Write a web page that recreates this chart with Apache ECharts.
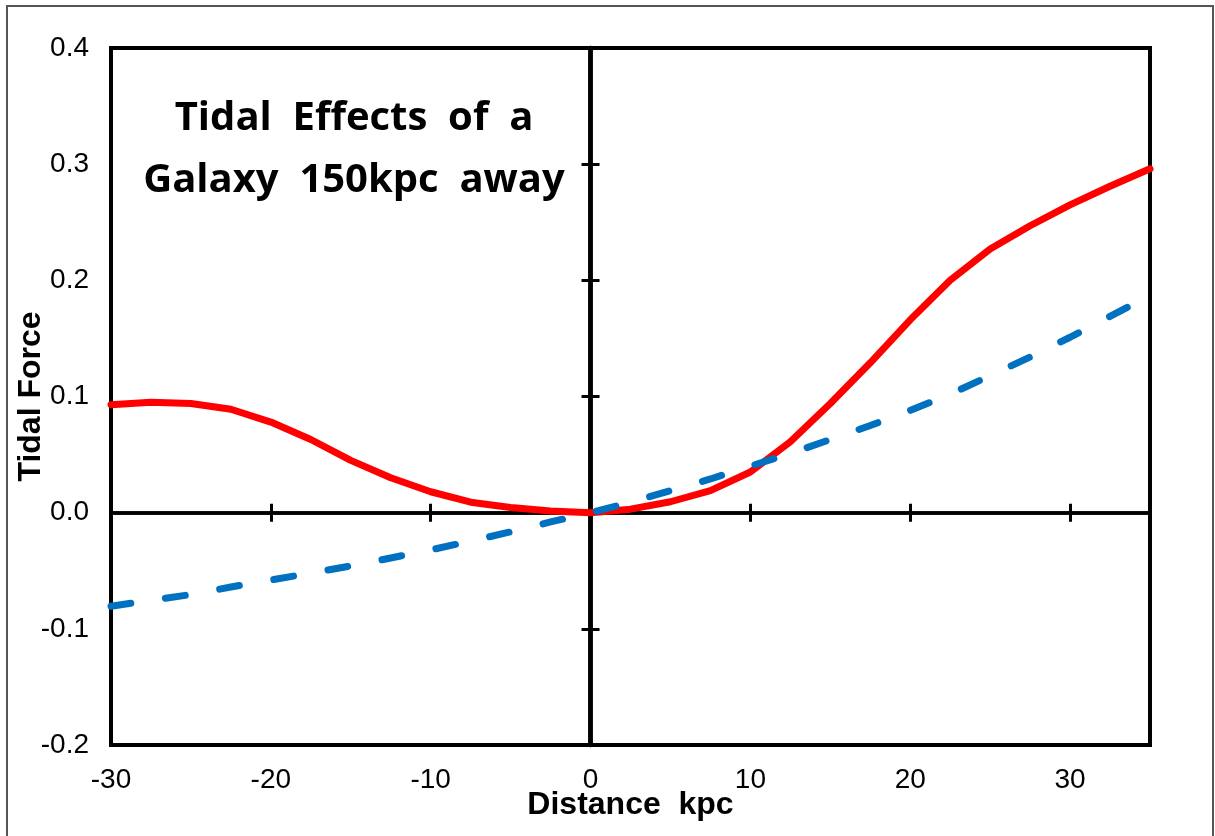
<!DOCTYPE html>
<html>
<head>
<meta charset="utf-8">
<script src="https://cdn.jsdelivr.net/npm/echarts@6/dist/echarts.min.js"></script>
<style>
html,body{margin:0;padding:0;background:#fff;}
#chart{width:1215px;height:836px;}
</style>
</head>
<body>
<div id="chart"></div>
<script>
// Data
var distanceKpc = [-30,-27.5,-25,-22.5,-20,-17.5,-15,-12.5,-10,-7.5,-5,-2.5,0,2.5,5,7.5,10,12.5,15,17.5,20,22.5,25,27.5,30,32.5,35];
var tidalRed = [0.093,0.095,0.094,0.089,0.078,0.063,0.045,0.030,0.018,0.009,0.0045,0.0015,0,0.003,0.0094,0.019,0.035,0.061,0.094,0.129,0.166,0.200,0.227,0.247,0.265,0.281,0.296];
var tidalBlue = [-0.0805,-0.0755,-0.0705,-0.064,-0.058,-0.052,-0.0458,-0.039,-0.032,-0.0245,-0.0165,-0.008,0,0.009,0.019,0.029,0.040,0.051,0.063,0.075,0.088,0.102,0.118,0.134,0.151,0.169,0.187];
var titleLines = ['Tidal  Effects  of  a', 'Galaxy  150kpc  away'];
var xAxisName = 'Distance  kpc';
var yAxisName = 'Tidal Force';

function pairs(xs, ys){ return xs.map(function(x,i){ return [x, ys[i]]; }); }

var chart = echarts.init(document.getElementById('chart'));
var labelFont = {fontSize:28, color:'#000', fontFamily:'Liberation Sans, Arial, sans-serif'};
var xBase = {type:'value', min:-30, max:35, interval:10, splitLine:{show:false}, gridIndex:0};
var yBase = {type:'value', min:-0.2, max:0.4, interval:0.1, splitLine:{show:false}, gridIndex:0};

var option = {
  backgroundColor:'#fff',
  animation:false,
  grid:{left:111, right:65, top:48, bottom:91, containLabel:false, outerBoundsMode:'none', show:true, borderColor:'#000', borderWidth:4, backgroundColor:'transparent'},
  graphic:[
    {type:'rect', shape:{x:7, y:6, width:1206, height:860}, style:{fill:'none', stroke:'#555', lineWidth:2}, silent:true},
    {type:'text', x:354, y:88, style:{text:titleLines.join('\n'), textAlign:'center', textVerticalAlign:'top', fontSize:40, fontWeight:'bold', fontFamily:'Open Sans, sans-serif', lineHeight:62, fill:'#000'}, z:10}
  ],
  xAxis:[
    Object.assign({}, xBase, {
      position:'bottom',
      axisLine:{show:false, onZero:false},
      axisTick:{show:false},
      axisLabel:Object.assign({margin:21, showMaxLabel:false, formatter:function(v){ return v===35 ? '' : String(v); }}, labelFont),
      name:xAxisName, nameLocation:'middle', nameGap:44, nameMoveOverlap:false,
      nameTextStyle:{fontSize:32, fontWeight:'bold', color:'#000', fontFamily:'Liberation Sans, Arial, sans-serif'}
    }),
    Object.assign({}, xBase, {
      position:'bottom',
      axisLine:{show:true, onZero:true, onZeroAxisIndex:0, lineStyle:{color:'#000', width:3.5}},
      axisTick:{show:true, inside:true, length:9, lineStyle:{color:'#000', width:3}},
      axisLabel:{show:false}
    }),
    Object.assign({}, xBase, {
      position:'bottom',
      axisLine:{show:true, onZero:true, onZeroAxisIndex:0, lineStyle:{color:'#000', width:3.5}},
      axisTick:{show:true, inside:false, length:9, lineStyle:{color:'#000', width:3}},
      axisLabel:{show:false}
    })
  ],
  yAxis:[
    Object.assign({}, yBase, {
      position:'left',
      axisLine:{show:false, onZero:false},
      axisTick:{show:false},
      axisLabel:Object.assign({margin:22, formatter:function(v){ return v.toFixed(1); }}, labelFont),
      name:yAxisName, nameLocation:'middle', nameGap:64, nameRotate:90, nameMoveOverlap:false,
      nameTextStyle:{fontSize:32, fontWeight:'bold', color:'#000', fontFamily:'Liberation Sans, Arial, sans-serif'}
    }),
    Object.assign({}, yBase, {
      position:'left',
      axisLine:{show:true, onZero:true, onZeroAxisIndex:0, lineStyle:{color:'#000', width:4.5}},
      axisTick:{show:true, inside:true, length:9, lineStyle:{color:'#000', width:3}},
      axisLabel:{show:false}
    }),
    Object.assign({}, yBase, {
      position:'left',
      axisLine:{show:true, onZero:true, onZeroAxisIndex:0, lineStyle:{color:'#000', width:4.5}},
      axisTick:{show:true, inside:false, length:9, lineStyle:{color:'#000', width:3}},
      axisLabel:{show:false}
    })
  ],
  series:[
    {type:'line', name:'tidal', xAxisIndex:0, yAxisIndex:0, data:pairs(distanceKpc, tidalRed), showSymbol:false, symbol:'none', smooth:false,
     lineStyle:{color:'#FF0000', width:7, cap:'round', join:'round'}, z:3},
    {type:'line', name:'linear', xAxisIndex:0, yAxisIndex:0, data:pairs(distanceKpc, tidalBlue), showSymbol:false, symbol:'none', smooth:false,
     lineStyle:{color:'#0070C0', width:7, type:[20,35], cap:'round', join:'round'}, z:4}
  ]
};
chart.setOption(option);
</script>
</body>
</html>
